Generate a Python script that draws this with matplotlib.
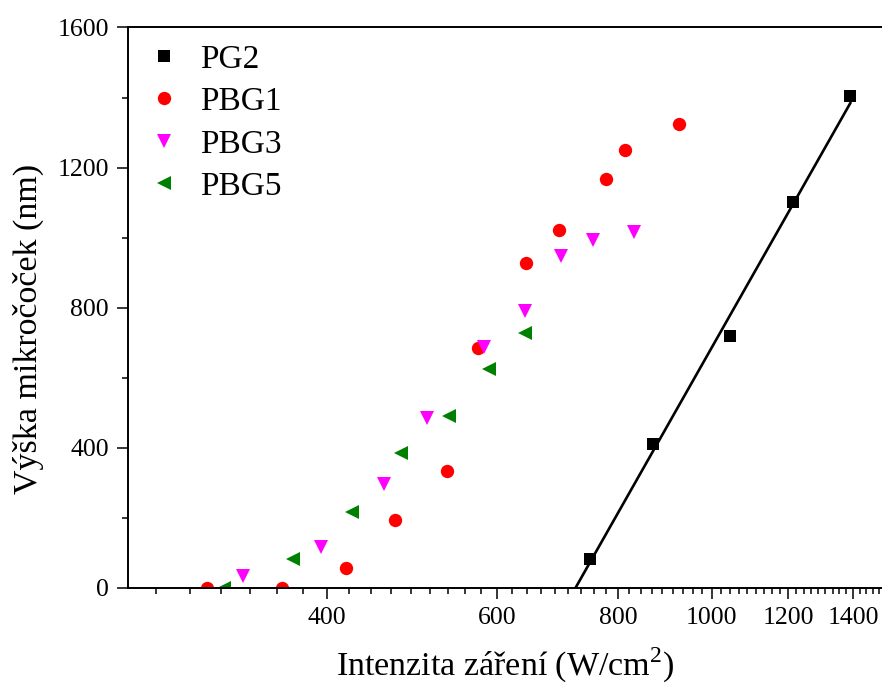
import numpy as np
import matplotlib
matplotlib.use('Agg')
import matplotlib.pyplot as plt
from matplotlib.ticker import FixedLocator, NullFormatter, FuncFormatter

plt.rcParams['font.family'] = ['Liberation Serif', 'DejaVu Serif']
plt.rcParams['mathtext.fontset'] = 'custom'
plt.rcParams['mathtext.rm'] = 'Liberation Serif'

# data (intensity W/cm2, height nm)
pg2_x = [748.5, 869.6, 1043.6, 1213.7, 1391.0]
pg2_y = [82, 411, 720, 1101, 1405]

pbg1_x = [300.6, 359.9, 418.5, 470.2, 532.4, 573.7, 643.6, 695.6, 777.0, 812.9, 926.2]
pbg1_y = [0, 0, 57, 193, 333, 684, 928, 1023, 1168, 1251, 1325]

pbg3_x = [328.0, 394.3, 458.8, 507.4, 582.0, 641.1, 698.4, 754.4, 831.2]
pbg3_y = [34, 118, 296, 486, 687, 791, 948, 993, 1015]

pbg5_x = [313.5, 369.0, 424.8, 477.6, 534.6, 588.9, 641.4]
pbg5_y = [0, 82, 217, 386, 491, 624, 727]

fig = plt.figure(figsize=(8.82, 6.88), dpi=100)
ax = fig.add_axes([0.1455, 0.14535, 0.8545, 0.8147])

ms = 9.6
ax.plot(pg2_x, pg2_y, 's', color='black', ms=8.4, mew=0, label='PG2')
ax.plot(pbg1_x, pbg1_y, 'o', color='red', ms=ms, mew=0, label='PBG1')
ax.plot(pbg3_x, pbg3_y, 'v', color='magenta', ms=ms, mew=0, label='PBG3')
ax.plot(pbg5_x, pbg5_y, '<', color='green', ms=ms, mew=0, label='PBG5')

# linear fit of PG2 (height vs log intensity)
b, a = np.polyfit(np.log10(pg2_x), pg2_y, 1)
x0 = 10 ** (-a / b)
xf = np.array([x0, max(pg2_x)])
ax.plot(xf, a + b * np.log10(xf), '-', color='black', lw=1.9)

ax.set_xscale('log')
ax.set_xlim(249.5, 1500)
ax.set_ylim(0, 1600)

major = [400, 600, 800, 1000, 1200, 1400]
minor = [200 * k + j * 200 / 9 for k in range(1, 8) for j in range(1, 9)]
ax.xaxis.set_major_locator(FixedLocator(major))
ax.xaxis.set_minor_locator(FixedLocator(minor))
ax.xaxis.set_major_formatter(FuncFormatter(lambda v, p: '%d' % v))
ax.xaxis.set_minor_formatter(NullFormatter())
ax.yaxis.set_major_locator(FixedLocator([0, 400, 800, 1200, 1600]))
ax.yaxis.set_minor_locator(FixedLocator([200, 600, 1000, 1400]))

ax.spines['right'].set_visible(False)
for s in ['left', 'bottom', 'top']:
    ax.spines[s].set_linewidth(1.4)
ax.tick_params(which='major', direction='out', length=8, width=1.1, labelsize=18.5, pad=6)
ax.tick_params(which='minor', direction='out', length=4, width=1.1)
ax.tick_params(top=False, right=False, which='both')

ax.set_xlabel('Intenzita záření (W/cm$^{2}$)', fontsize=24.5, labelpad=12)
ax.set_ylabel('Výška mikročoček (nm)', fontsize=24.5)
ax.yaxis.set_label_coords(-0.112, 0.462)

ax.legend(loc='upper left', frameon=False, fontsize=24, labelspacing=0.36,
          handletextpad=0.5, borderaxespad=0.1, handlelength=1.15)

fig.savefig('out.png', dpi=100)
